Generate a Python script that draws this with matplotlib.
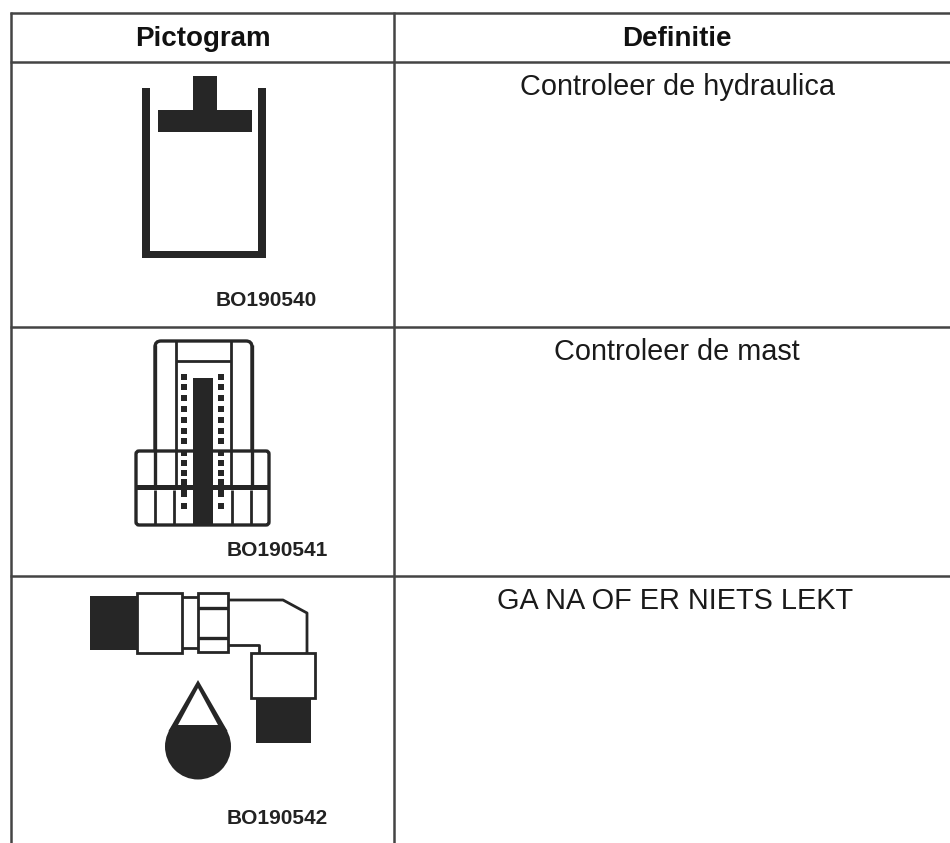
"""
Pictogram table (scanned manual page), redrawn in pixel coordinates.
"""

import matplotlib
matplotlib.use('Agg')
import matplotlib.pyplot as plt
from matplotlib.patches import Rectangle, Polygon, Circle, FancyBboxPatch

# ── Table content ────────────────────────────────────────────────────────────
headers     = ['Pictogram', 'Definitie']
definitions = ['Controleer de hydraulica', 'Controleer de mast', 'GA NA OF ER NIETS LEKT']
codes       = ['BO190540', 'BO190541', 'BO190542']

W, H = 950, 843
DARK = '#262626'
LINE = '#444444'

fig = plt.figure(figsize=(W/100, H/100), dpi=100)
ax = fig.add_axes([0, 0, 1, 1])
ax.set_xlim(0, W); ax.set_ylim(H, 0)
ax.axis('off')
plt.rcParams['font.family'] = ['Liberation Sans', 'DejaVu Sans']


def box(x0, y0, x1, y1, fc='none', lw=2.0, ec=DARK):
    ax.add_patch(Rectangle((x0, y0), x1-x0, y1-y0, fc=fc, ec=ec, lw=lw))


def fill(x0, y0, x1, y1):
    ax.add_patch(Rectangle((x0, y0), x1-x0, y1-y0, fc=DARK, ec='none'))


def line(xs, ys, lw=2.0):
    ax.plot(xs, ys, color=DARK, lw=lw, solid_capstyle='butt')


# ── Table grid ───────────────────────────────────────────────────────────────
for y in [13, 62, 327, 576]:
    ax.plot([10, W], [y, y], color=LINE, lw=1.8, solid_capstyle='butt')
for x in [11, 394]:
    ax.plot([x, x], [12, H], color=LINE, lw=1.8, solid_capstyle='butt')

# ── Text ─────────────────────────────────────────────────────────────────────
ax.text(203, 39, headers[0], ha='center', va='center', fontsize=20, fontweight='bold', color='#111111')
ax.text(677, 39, headers[1], ha='center', va='center', fontsize=20, fontweight='bold', color='#111111')
for x, y, d in zip([678, 677, 675], [87, 352, 601], definitions):
    ax.text(x, y, d, ha='center', va='center', fontsize=20.8, color='#1a1a1a')
for x, y, c in zip([266, 277, 277], [300, 550, 818], codes):
    ax.text(x, y, c, ha='center', va='center', fontsize=15, fontweight='bold', color='#222222')

# ── Pictogram 1: hydraulic cylinder ──────────────────────────────────────────
fill(142, 88, 150, 258)
fill(258, 88, 266, 258)
fill(142, 251, 266, 258)
fill(158, 110, 252, 132)
fill(193, 76, 217, 110)

# ── Pictogram 2: mast ────────────────────────────────────────────────────────
ax.add_patch(FancyBboxPatch((155, 341), 97, 144, boxstyle='round,pad=0,rounding_size=6',
                            fc='white', ec=DARK, lw=2.4))
ax.add_patch(FancyBboxPatch((136, 451), 133, 74, boxstyle='round,pad=0,rounding_size=3',
                            fc='white', ec=DARK, lw=2.4))
line([155, 155], [345, 485], lw=2.4)
line([252, 252], [345, 485], lw=2.4)
line([176, 176], [341, 485])
line([231, 231], [341, 485])
line([176, 231], [361, 361])
fill(136, 485, 269, 490)
for x in [155, 174, 232, 251]:
    line([x, x], [490, 525])
fill(193, 378, 213, 525)
for x in [183.5, 221]:
    for y in [377, 387, 398, 409, 420, 431, 441, 453, 463, 473, 482]:
        fill(x-3, y-3, x+3, y+3)
    fill(x-3, 488, x+3, 497)
    fill(x-3, 503, x+3, 509)

# ── Pictogram 3: elbow fitting with drop ─────────────────────────────────────
fill(90, 596, 137, 650)
box(137, 593, 182, 653)
line([182, 198], [597, 597]); line([182, 198], [648, 648])
box(198, 593, 228, 652)
line([198, 228], [608, 608], lw=2.4); line([198, 228], [638, 638], lw=2.4)
line([228, 283, 307, 307], [600, 600, 613, 653])
line([228, 259, 259], [645, 645, 653])
box(251, 653, 315, 698)
fill(256, 698, 311, 743)

# drop: dark outline and circle, white triangle above the liquid level
ax.add_patch(Polygon([(198, 680), (168.5, 731), (227.5, 731)], closed=True, fc=DARK, ec='none'))
ax.add_patch(Circle((198, 746.5), 33, fc=DARK, ec='none'))
ax.add_patch(Polygon([(198, 688), (178, 725), (218, 725)], closed=True, fc='white', ec='none'))

plt.savefig('out.png', dpi=100, facecolor='white')
